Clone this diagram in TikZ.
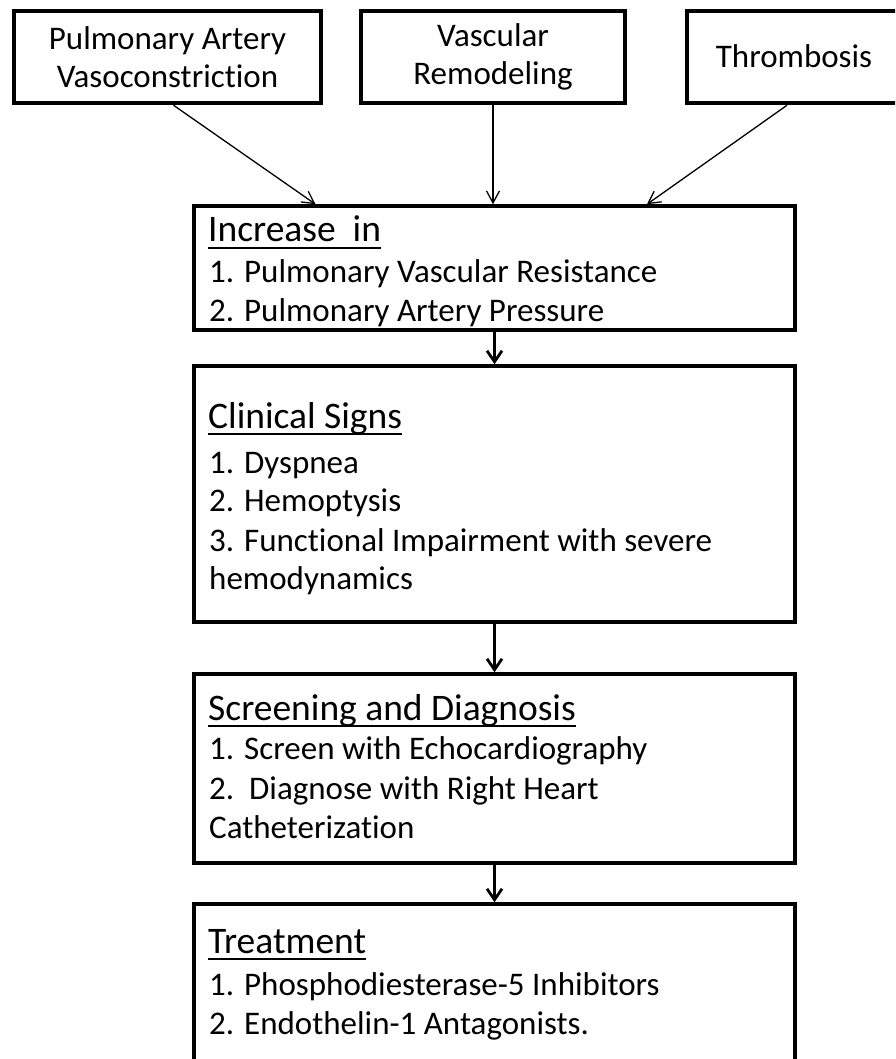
\documentclass[tikz,border=0pt]{standalone}
\usepackage{fontspec}
\setmainfont{Carlito}[Ligatures=CommonOff]
\usetikzlibrary{arrows.meta}
\begin{document}
\begin{tikzpicture}[x=1pt,y=-1pt,
  topbox/.style={draw=black, line width=4.5pt, minimum height=92pt, inner sep=0pt},
  mainbox/.style={draw=black, line width=3.5pt, minimum width=601pt, inner sep=0pt},
  toptext/.style={anchor=base, inner sep=0pt, font=\fontsize{33}{40}\selectfont},
  line/.style={anchor=base west, inner sep=0pt, font=\fontsize{33}{40}\selectfont},
  headline/.style={anchor=base west, inner sep=0pt, font=\fontsize{37.5}{44}\selectfont},
  thinarrow/.style={line width=1.3pt, -{Straight Barb[length=12pt,width=13pt,line width=1.3pt]}},
  thickarrow/.style={line width=2.8pt, -{Straight Barb[length=11pt,width=15pt,line width=2.8pt]}},
  uline/.style={line width=2.2pt}
]
\clip (0,0) rectangle (895,1059);
\fill[white] (0,0) rectangle (895,1059);

% top boxes
\node[topbox, minimum width=307pt] (b1) at (167.5,57) {};
\node[topbox, minimum width=264pt] (b2) at (493,57) {};
\node[topbox, minimum width=212pt] (b3) at (793,57) {};
\node[toptext] (t1a) at (167.5,50) {Pulmonary Artery};
\node[toptext] (t1b) at (167.5,88) {Vasoconstriction};
\node[toptext] (t2a) at (493,47) {Vascular};
\node[toptext] (t2b) at (493,85) {Remodeling};
\node[toptext] (t3a) at (794,68) {Thrombosis};

% main boxes
\node[mainbox, minimum height=124pt] (inc) at (494.5,268) {};
\node[mainbox, minimum height=256pt] (cli) at (494.5,494) {};
\node[mainbox, minimum height=189pt] (scr) at (494.5,768.5) {};
\node[mainbox, minimum height=176pt] (trt) at (494.5,992) {};

% increase
\node[headline] (h1) at (208,242) {Increase\ \ in};
\node[line] (l11) at (209,282) {1. Pulmonary Vascular Resistance};
\node[line] (l12) at (209,321) {2. Pulmonary Artery Pressure};
% clinical
\node[headline] (h2) at (208,428) {Clinical Signs};
\node[line] (l21) at (209,473) {1. Dyspnea};
\node[line] (l22) at (209,511) {2. Hemoptysis};
\node[line] (l23) at (209,551) {3. Functional Impairment with severe};
\node[line] (l24) at (209,589) {hemodynamics};
% screening
\node[headline] (h3) at (208,720) {Screening and Diagnosis};
\node[line] (l31) at (209,759) {1. Screen with Echocardiography};
\node[line] (l32) at (209,799) {2.\ \ Diagnose with Right Heart};
\node[line] (l33) at (209,838) {Catheterization};
% treatment
\node[headline] (h4) at (208,953) {Treatment};
\node[line] (l41) at (209,995) {1. Phosphodiesterase-5 Inhibitors};
\node[line] (l42) at (209,1034) {2. Endothelin-1 Antagonists.};

% underlines
\foreach \h in {h1,h2,h3,h4}
  \draw[uline] ([yshift=-6pt]\h.base west) -- ([yshift=-6pt]\h.base east);

% arrows
\draw[thinarrow] ([xshift=6pt]b1.south) -- ([xshift=-179pt]inc.north);
\draw[thinarrow] (b2.south) -- (b2.south |- inc.north);
\draw[thinarrow] ([xshift=-6pt]b3.south) -- ([xshift=152.5pt]inc.north);
\draw[thickarrow] (inc.south) -- (cli.north);
\draw[thickarrow] (cli.south) -- (scr.north);
\draw[thickarrow] (scr.south) -- (trt.north);
\end{tikzpicture}
\end{document}
